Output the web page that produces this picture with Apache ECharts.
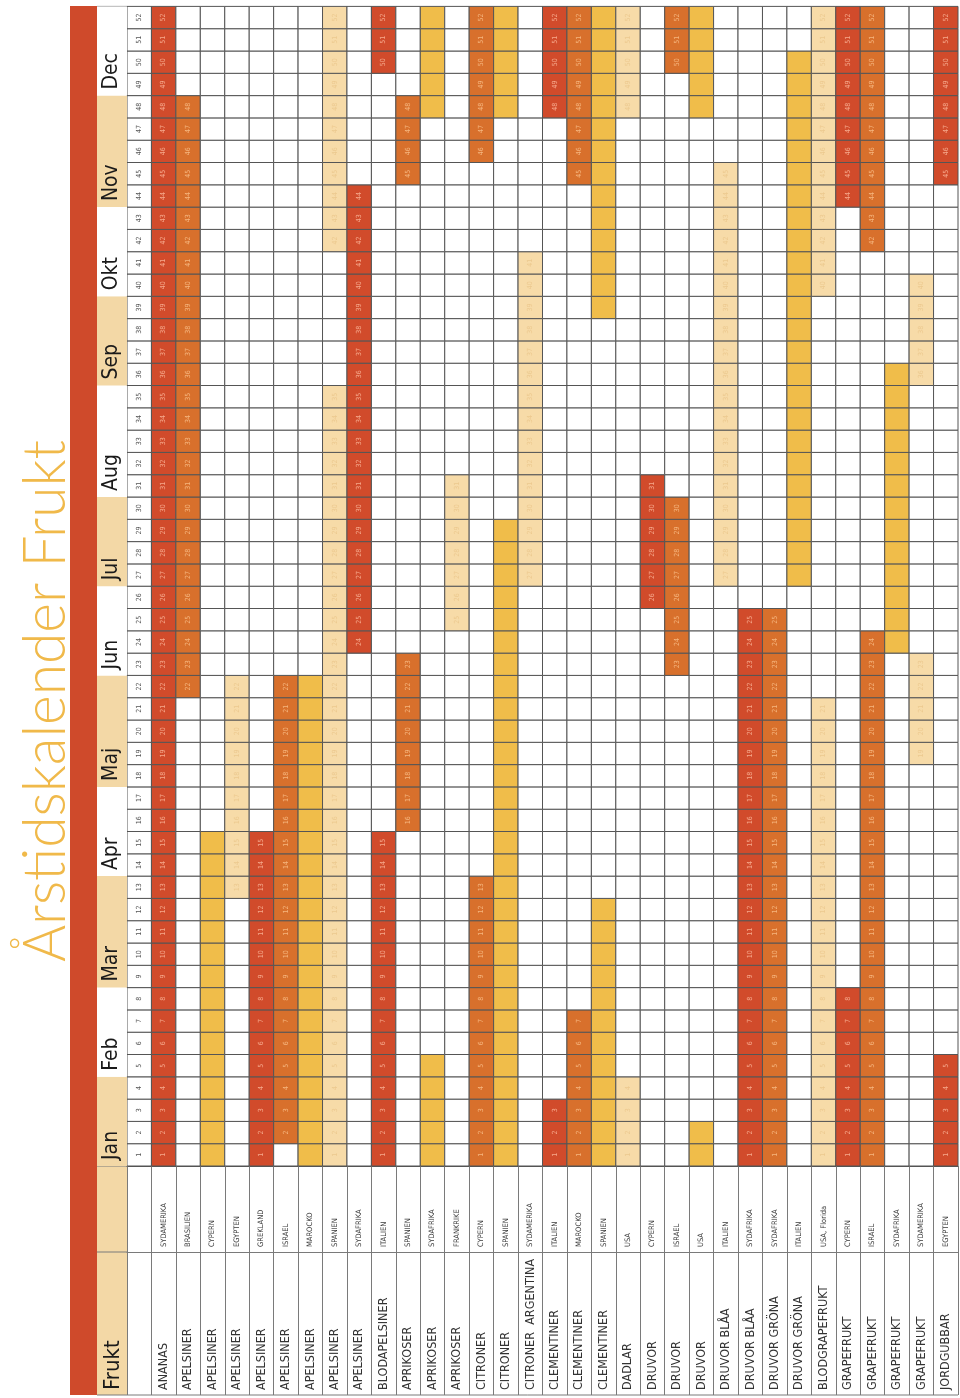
<!DOCTYPE html>
<html><head><meta charset="utf-8">
<script src="https://cdn.jsdelivr.net/npm/echarts@6/dist/echarts.min.js"></script>
<style>html,body{margin:0;padding:0;background:#fff}#c{width:960px;height:1398px}</style>
</head><body><div id="c"></div>
<script>
const titleText = 'Årstidskalender Frukt';
const headerText = 'Frukt';
const fruits = ['ANANAS','APELSINER','APELSINER','APELSINER','APELSINER','APELSINER','APELSINER','APELSINER','APELSINER','BLODAPELSINER','APRIKOSER','APRIKOSER','APRIKOSER','CITRONER','CITRONER','CITRONER  ARGENTINA','CLEMENTINER','CLEMENTINER','CLEMENTINER','DADLAR','DRUVOR','DRUVOR','DRUVOR','DRUVOR BLÅA','DRUVOR BLÅA','DRUVOR GRÖNA','DRUVOR GRÖNA','BLODGRAPEFRUKT','GRAPEFRUKT','GRAPEFRUKT','GRAPEFRUKT','GRAPEFRUKT','JORDGUBBAR'];
const countries = ['SYDAMERIKA','BRASILIEN','CYPERN','EGYPTEN','GREKLAND','ISRAEL','MAROCKO','SPANIEN','SYDAFRIKA','ITALIEN','SPANIEN','SYDAFRIKA','FRANKRIKE','CYPERN','SPANIEN','SYDAMERIKA','ITALIEN','MAROCKO','SPANIEN','USA','CYPERN','ISRAEL','USA','ITALIEN','SYDAFRIKA','SYDAFRIKA','ITALIEN','USA, Florida','CYPERN','ISRAEL','SYDAFRIKA','SYDAMERIKA','EGYPTEN'];
const weekLabels = ['1','2','3','4','5','6','7','8','9','10','11','12','13','14','15','16','17','18','19','20','21','22','23','24','25','26','27','28','29','30','31','32','33','34','35','36','37','38','39','40','41','42','43','44','45','46','47','48','49','50','51','52'];
const monthNames = ['Jan','Feb','Mar','Apr','Maj','Jun','Jul','Aug','Sep','Okt','Nov','Dec'];
const monthWeeks = [4,4,5,4,5,4,4,5,4,4,5,4];
// season ranges per row: [fromWeek, toWeek, level]  1=red 2=orange 3=yellow 4=light
const seasons = [
 [[1,52,1]],
 [[22,48,2]],
 [[1,15,3]],
 [[13,22,4]],
 [[1,15,1]],
 [[2,22,2]],
 [[1,22,3]],
 [[1,35,4],[42,52,4]],
 [[24,44,1]],
 [[1,15,1],[50,52,1]],
 [[16,23,2],[45,48,2]],
 [[1,5,3],[48,52,3]],
 [[25,31,4]],
 [[1,13,2],[46,52,2]],
 [[1,29,3],[48,52,3]],
 [[27,41,4]],
 [[1,3,1],[48,52,1]],
 [[1,7,2],[45,52,2]],
 [[1,12,3],[39,52,3]],
 [[1,4,4],[48,52,4]],
 [[26,31,1]],
 [[23,30,2],[50,52,2]],
 [[1,2,3],[48,52,3]],
 [[27,45,4]],
 [[1,25,1]],
 [[1,25,2]],
 [[27,50,3]],
 [[1,21,4],[40,52,4]],
 [[1,8,1],[44,52,1]],
 [[1,24,2],[42,52,2]],
 [[24,36,3]],
 [[19,23,4],[36,40,4]],
 [[1,5,1],[45,52,1]]
];

const FONT = "'Liberation Sans Narrow','DejaVu Sans Condensed','Roboto',sans-serif";
const fills = ['#ffffff','#d14b2b','#d8702c','#f0bd4a','#f7dba8','#ffffff'];
const textColors = [null,'#f6a98c','#f6b67f',null,'#ecc98f','#555555'];

const cells = [];
weekLabels.forEach((w,wi)=>cells.push([0, wi, 5]));
fruits.forEach((f,i)=>{
  weekLabels.forEach((w,wi)=>{
    let lv = 0;
    seasons[i].forEach(r=>{ if (wi+1>=r[0] && wi+1<=r[1]) lv = r[2]; });
    cells.push([i+1, wi, lv]);
  });
});
const monthData = []; let acc = 0;
monthWeeks.forEach((n,i)=>{ monthData.push([acc, acc+n, i]); acc += n; });

function renderCell(params, api){
  const x = api.value(0), y = api.value(1), lv = api.value(2);
  const c = api.coord([x, y]); const s = api.size([1,1]);
  const ch = [{type:'rect', shape:{x:c[0]-s[0]/2, y:c[1]-s[1]/2, width:s[0], height:s[1]},
    style:{fill:fills[lv], stroke:'#555555', lineWidth:1}}];
  if (textColors[lv]) ch.push({type:'text', x:c[0], y:c[1], rotation:Math.PI/2,
    style:{text:weekLabels[y], fill:textColors[lv], fontSize:7, fontFamily:FONT, align:'center', verticalAlign:'middle'}});
  return {type:'group', children:ch};
}
function renderMonth(params, api){
  const s = api.value(0), e = api.value(1), i = api.value(2);
  const p0 = api.coord([0, s]), p1 = api.coord([1, e]);
  return {type:'group', children:[
    {type:'rect', shape:{x:p0[0], y:p1[1], width:p1[0]-p0[0], height:p0[1]-p1[1]}, style:{fill: i%2===0 ? '#f3d8a6' : '#ffffff'}},
    {type:'text', x:(p0[0]+p1[0])/2, y:p0[1]-6, rotation:Math.PI/2,
     style:{text:monthNames[i], fill:'#1a1a1a', fontSize:21, fontFamily:FONT, align:'left', verticalAlign:'middle'}}
  ]};
}

const meas = document.createElement('canvas').getContext('2d');
meas.font = "300 60px Lato";
const titleScale = 522 / meas.measureText(titleText).width;

const chart = echarts.init(document.getElementById('c'), null, {renderer:'canvas'});
chart.setOption({
  animation:false,
  backgroundColor:'#ffffff',
  grid:[{left:127, top:6.4, width:831, height:1159.6},{left:97, top:6.4, width:30, height:1159.6}],
  xAxis:[
    {gridIndex:0, type:'category', data:[''].concat(countries), position:'bottom',
     axisLine:{show:true, lineStyle:{color:'#555555', width:1}},
     axisTick:{show:true, interval:0, length:229, lineStyle:{color:'#7a7a7a'}},
     axisLabel:{interval:0, rotate:90, align:'left', verticalAlign:'middle', margin:81, fontSize:7.5, color:'#3a3a3a', fontFamily:FONT},
     splitLine:{show:false}},
    {gridIndex:0, type:'category', data:[''].concat(fruits), position:'bottom', offset:86,
     axisLine:{show:true, lineStyle:{color:'#7a7a7a', width:1}},
     axisTick:{show:false},
     axisLabel:{interval:0, rotate:90, align:'left', verticalAlign:'middle', margin:138, fontSize:12.5, color:'#333333', fontFamily:FONT},
     splitLine:{show:false}},
    {gridIndex:1, type:'value', min:0, max:1, show:false}
  ],
  yAxis:[
    {gridIndex:0, type:'category', data:weekLabels, show:false},
    {gridIndex:1, type:'value', min:0, max:52, show:false}
  ],
  series:[
    {type:'custom', xAxisIndex:0, yAxisIndex:0, renderItem:renderCell, data:cells, silent:true},
    {type:'custom', xAxisIndex:2, yAxisIndex:1, renderItem:renderMonth, data:monthData, silent:true}
  ],
  graphic:[
    {type:'rect', shape:{x:70, y:6, width:27, height:1389}, style:{fill:'#cf4a2b'}},
    {type:'rect', shape:{x:97, y:1166, width:30, height:229}, style:{fill:'#f3d8a6'}},
    {type:'line', shape:{x1:97, y1:1166, x2:127, y2:1166}, style:{stroke:'#7a7a7a', lineWidth:1}},
    {type:'line', shape:{x1:97, y1:1252, x2:127, y2:1252}, style:{stroke:'#7a7a7a', lineWidth:1}},
    {type:'line', shape:{x1:97, y1:1395, x2:958, y2:1395}, style:{stroke:'#7a7a7a', lineWidth:1}},
    {type:'line', shape:{x1:97, y1:6.4, x2:127, y2:6.4}, style:{stroke:'#7a7a7a', lineWidth:1}},
    {type:'text', x:113, y:1390, rotation:Math.PI/2,
     style:{text:headerText, fill:'#1a1a1a', fontSize:22, fontFamily:FONT, align:'left', verticalAlign:'middle'}},
    {type:'text', x:46, y:962, rotation:Math.PI/2, scaleX:titleScale,
     style:{text:titleText, fill:'#f0b94a', font:"300 60px Lato", align:'left', verticalAlign:'middle'}}
  ]
});
</script></body></html>
